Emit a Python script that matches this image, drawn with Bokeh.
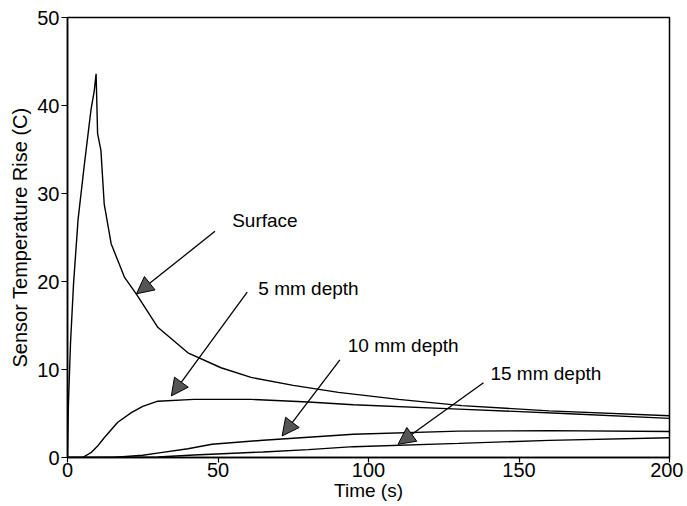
from bokeh.plotting import figure
from bokeh.models import Range1d, Arrow, NormalHead, FixedTicker, ColumnDataSource
from bokeh.core.properties import value
from bokeh.embed import file_html
from bokeh.resources import INLINE

# ---- data (time in s, temperature rise in C) ----
surface_t = [0, 0.3, 1, 2, 3.5, 5.5, 7.8, 8.9, 9.5, 10, 11.1, 12.2, 14.5, 18.9, 23, 30, 40, 51, 61, 75, 90, 110, 131, 160, 200]
surface_v = [0, 6, 13, 19.7, 27, 33, 39.5, 41.7, 43.6, 36.8, 34.9, 28.8, 24.3, 20.5, 18.5, 14.8, 11.9, 10.2, 9.1, 8.2, 7.4, 6.6, 5.9, 5.3, 4.75]

d5_t = [0, 5, 7.8, 10, 12.2, 16.7, 21.2, 25, 30, 42, 61, 80, 95, 130, 165, 200]
d5_v = [0, 0, 0.55, 1.3, 2.25, 4.0, 5.1, 5.8, 6.4, 6.6, 6.6, 6.3, 6.0, 5.5, 5.0, 4.45]

d10_t = [0, 15, 25, 31, 40, 48, 65, 80, 95, 130, 160, 200]
d10_v = [0, 0, 0.25, 0.55, 1.0, 1.5, 1.96, 2.3, 2.64, 3.0, 3.05, 2.95]

d15_t = [0, 30, 42, 65, 80, 95, 130, 160, 200]
d15_v = [0, 0.05, 0.28, 0.63, 0.9, 1.23, 1.6, 1.95, 2.25]

x_ticks = [0, 50, 100, 150, 200]
y_ticks = [0, 10, 20, 30, 40, 50]

labels = ["Surface", "5 mm depth", "10 mm depth", "15 mm depth"]
label_x = [54.7, 63.4, 93.1, 140.5]
label_y = [26.9, 19.2, 12.7, 9.5]
arrow_x0 = [49.0, 59.7, 90.5, 138.2]
arrow_y0 = [25.7, 18.8, 11.1, 8.5]
arrow_x1 = [22.9, 34.5, 71.3, 109.8]
arrow_y1 = [18.6, 7.0, 2.45, 1.5]

FONT = "Liberation Sans"

p = figure(width=683, height=505, output_backend="svg", toolbar_location=None,
           x_range=Range1d(0, 200), y_range=Range1d(0, 50),
           min_border_left=67, min_border_right=14, min_border_top=17, min_border_bottom=48)
p.background_fill_color = "white"
p.border_fill_color = "white"
p.outline_line_color = "black"
p.outline_line_width = 1.5
p.grid.visible = False

for ax in (p.xaxis[0], p.yaxis[0]):
    ax.axis_line_color = "black"
    ax.axis_line_width = 1.5
    ax.major_tick_in = 0
    ax.major_tick_out = 6
    ax.major_tick_line_width = 1.2
    ax.minor_tick_line_color = None
    ax.major_label_text_font = FONT
    ax.major_label_text_font_size = "20px"
    ax.major_label_text_color = "black"
    ax.axis_label_text_font = FONT
    ax.axis_label_text_font_size = "20px"
    ax.axis_label_text_font_style = "normal"
    ax.axis_label_text_color = "black"
    ax.major_label_standoff = 2
    ax.axis_label_standoff = 3

xa = p.xaxis[0]
xa.major_tick_out = 5
xa.major_label_standoff = 0
xa.axis_label_standoff = 0
xa.axis_label_text_font_size = "19px"

p.xaxis[0].ticker = FixedTicker(ticks=x_ticks)
p.yaxis[0].ticker = FixedTicker(ticks=y_ticks)
p.xaxis[0].axis_label = "Time (s)"
p.yaxis[0].axis_label = "Sensor Temperature Rise (C)"

for t, v in ((surface_t, surface_v), (d5_t, d5_v), (d10_t, d10_v), (d15_t, d15_v)):
    p.line(t, v, line_color="black", line_width=1.4)

src = ColumnDataSource(dict(x=label_x, y=label_y, text=labels))
p.text(x="x", y="y", text="text", source=src, text_font=value(FONT),
       text_font_size="19px", text_align="left", text_baseline="middle", text_color="black")

for i in range(len(labels)):
    p.add_layout(Arrow(end=NormalHead(size=17, fill_color="#555555", line_color="black", line_width=1),
                       x_start=arrow_x0[i], y_start=arrow_y0[i],
                       x_end=arrow_x1[i], y_end=arrow_y1[i],
                       line_color="black", line_width=1.3))

open("out.html", "w").write(file_html(p, INLINE))
